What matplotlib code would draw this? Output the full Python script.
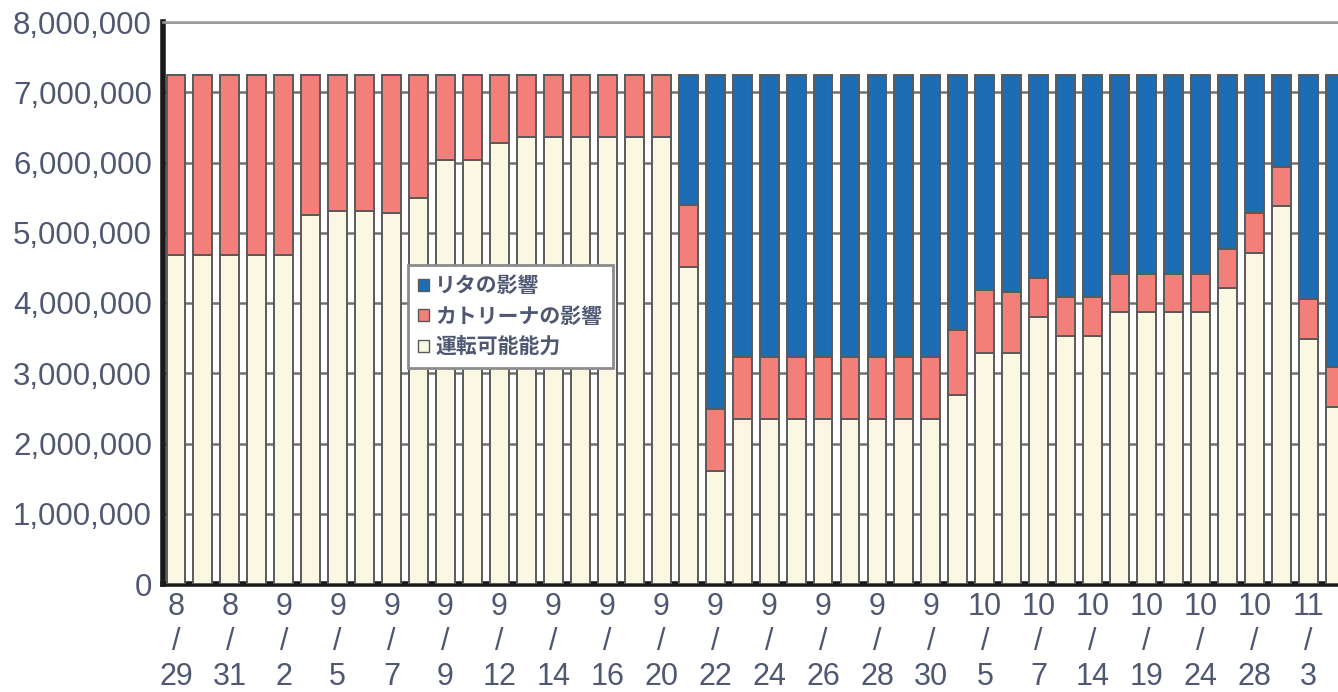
import matplotlib
matplotlib.use("Agg")
import matplotlib.pyplot as plt
from matplotlib.ticker import FuncFormatter
from matplotlib.patches import Patch

plt.rcParams['font.family'] = ['Liberation Sans', 'Noto Sans CJK JP', 'DejaVu Sans']

# capacity figures, one bar per report date (b/d)
operable = [4680000, 4680000, 4680000, 4680000, 4680000, 5250000, 5310000, 5310000,
            5280000, 5490000, 6040000, 6030000, 6280000, 6360000, 6360000, 6360000,
            6360000, 6360000, 6360000, 4510000, 1610000, 2350000, 2350000, 2350000,
            2350000, 2350000, 2350000, 2350000, 2350000, 2690000, 3290000, 3290000,
            3800000, 3530000, 3530000, 3870000, 3870000, 3870000, 3870000, 4210000,
            4710000, 5380000, 3490000, 2520000]
katrina = [2560000, 2560000, 2560000, 2560000, 2560000, 1990000, 1930000, 1930000,
           1960000, 1750000, 1200000, 1210000, 960000, 880000, 880000, 880000,
           880000, 880000, 880000, 890000, 880000, 880000, 880000, 880000,
           880000, 880000, 880000, 880000, 880000, 930000, 900000, 870000,
           560000, 560000, 560000, 540000, 540000, 540000, 540000, 560000,
           570000, 560000, 570000, 570000]
rita = [0, 0, 0, 0, 0, 0, 0, 0,
        0, 0, 0, 0, 0, 0, 0, 0,
        0, 0, 0, 1840000, 4750000, 4010000, 4010000, 4010000,
        4010000, 4010000, 4010000, 4010000, 4010000, 3620000, 3050000, 3080000,
        2880000, 3150000, 3150000, 2830000, 2830000, 2830000, 2830000, 2470000,
        1960000, 1300000, 3180000, 4150000]

# only every second date is labelled
label_months = ['8', '8', '9', '9', '9', '9', '9', '9', '9', '9', '9',
                '9', '9', '9', '9', '10', '10', '10', '10', '10', '10', '11']
label_days = ['29', '31', '2', '5', '7', '9', '12', '14', '16', '20', '22',
              '24', '26', '28', '30', '5', '7', '14', '19', '24', '28', '3']

series_names = ['リタの影響', 'カトリーナの影響', '運転可能能力']

c_rita = '#1d6db4'
c_katrina = '#f27f79'
c_operable = '#faf7e2'
edge = '#5a5a5a'
txt = '#4f5872'

fig = plt.figure(figsize=(13.38, 6.92), dpi=100)
ax = fig.add_axes([163 / 1338, (692 - 584) / 692, 1 - 163 / 1338, (584 - 22) / 692])

x = list(range(len(operable)))
bottom2 = [o + k for o, k in zip(operable, katrina)]
w = 0.7
ax.bar(x, operable, w, color=c_operable, edgecolor=edge, linewidth=1.4, zorder=3)
ax.bar(x, katrina, w, bottom=operable, color=c_katrina, edgecolor=edge, linewidth=1.4, zorder=3)
ax.bar(x, rita, w, bottom=bottom2, color=c_rita, edgecolor=edge, linewidth=1.4, zorder=3)

ax.set_ylim(0, 8000000)
ax.set_xlim(-0.48, 43.1)
ax.set_yticks(range(0, 8000001, 1000000))
ax.yaxis.set_major_formatter(FuncFormatter(lambda v, p: f'{int(v):,}'))
ax.yaxis.grid(True, color='#707070', linewidth=1.8, zorder=0)
ax.set_axisbelow(True)

ax.set_xticks(x[::2])
ax.set_xticklabels([f'{m}\n/\n{d}' for m, d in zip(label_months, label_days)],
                   linespacing=1.2)

ax.tick_params(axis='y', length=0, pad=8, labelsize=22.5, labelcolor=txt)
ax.tick_params(axis='x', length=0, pad=6, labelsize=22, labelcolor=txt)

ax.spines['left'].set_linewidth(4)
ax.spines['left'].set_color('#1a1a1a')
ax.spines['bottom'].set_linewidth(4)
ax.spines['bottom'].set_color('#1a1a1a')
ax.spines['top'].set_linewidth(1.8)
ax.spines['top'].set_color('#9a9a9a')
ax.spines['right'].set_visible(False)

handles = [Patch(facecolor=c_rita, edgecolor=edge),
           Patch(facecolor=c_katrina, edgecolor=edge),
           Patch(facecolor=c_operable, edgecolor=edge)]
leg = ax.legend(handles, series_names, loc='upper left',
                bbox_to_anchor=((408 - 163) / 1175, (584 - 265) / 562),
                borderaxespad=0, fancybox=False, framealpha=1,
                handlelength=0.5, handleheight=0.5, handletextpad=0.3,
                labelspacing=0.45, borderpad=0.5,
                prop={'family': ['Noto Sans CJK JP'], 'size': 15, 'weight': 'bold'},
                labelcolor=txt)
leg.get_frame().set_edgecolor('#8c8c8c')
leg.get_frame().set_linewidth(2)
leg.set_zorder(5)

fig.savefig('out.png', dpi=100)
